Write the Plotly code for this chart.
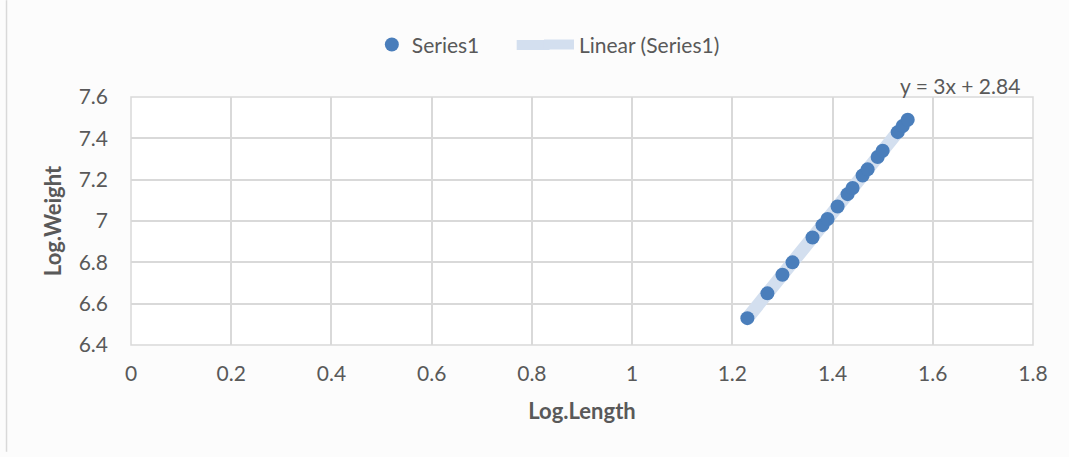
import plotly.graph_objects as go

# Log-transformed length / weight measurements
log_length = [1.23, 1.27, 1.30, 1.32, 1.36, 1.38, 1.39, 1.41, 1.43, 1.44,
              1.46, 1.47, 1.49, 1.50, 1.53, 1.54, 1.55]
log_weight = [6.53, 6.65, 6.74, 6.80, 6.92, 6.98, 7.01, 7.07, 7.13, 7.16,
              7.22, 7.25, 7.31, 7.34, 7.43, 7.46, 7.49]

# Linear trendline y = slope * x + intercept
slope = 3
intercept = 2.84
trend_x = [min(log_length), max(log_length)]
trend_y = [slope * x + intercept for x in trend_x]

x_ticks = [0, 0.2, 0.4, 0.6, 0.8, 1, 1.2, 1.4, 1.6, 1.8]
y_ticks = [6.4, 6.6, 6.8, 7, 7.2, 7.4, 7.6]

FONT = "Lato"
TEXT = "#595959"
GRID = "#d9d9d9"
TREND = "#d3dfef"
SIZE = 21

fig = go.Figure()
fig.add_trace(go.Scatter(
    x=trend_x, y=trend_y, mode="lines", name="Linear (Series1)",
    line=dict(color=TREND, width=13), legend="legend2",
))
fig.add_trace(go.Scatter(
    x=log_length, y=log_weight, mode="markers", name="Series1",
    marker=dict(color="#4a7ebb", size=14), legend="legend",
))

legend_style = dict(orientation="h", xanchor="left", y=1.21, yanchor="middle",
                    font=dict(size=SIZE, color=TEXT), bgcolor="rgba(0,0,0,0)")

fig.update_layout(
    width=1069, height=457,
    margin=dict(l=131, r=36, t=97, b=112, autoexpand=False),
    paper_bgcolor="#fcfcfc", plot_bgcolor="#ffffff",
    font=dict(family=FONT, color=TEXT, size=SIZE),
    showlegend=True,
    legend=dict(x=0.267, **legend_style),
    legend2=dict(x=0.4523, **legend_style),
    xaxis=dict(range=[0, 1.8], tickvals=x_ticks, ticktext=[str(v) for v in x_ticks],
               showgrid=True, gridcolor=GRID, gridwidth=1.5, zeroline=False,
               showline=False, ticks="", ticklabelstandoff=14,
               tickfont=dict(size=SIZE, color=TEXT),
               title=dict(text="<b>Log.Length</b>", font=dict(size=22, color=TEXT), standoff=19)),
    yaxis=dict(range=[6.4, 7.6], tickvals=y_ticks, ticktext=[str(v) for v in y_ticks],
               showgrid=True, gridcolor=GRID, gridwidth=1.5, zeroline=False,
               showline=False, ticks="", ticklabelstandoff=22,
               tickfont=dict(size=SIZE, color=TEXT),
               title=dict(text="<b>Log.Weight</b>", font=dict(size=22, color=TEXT), standoff=10)),
    shapes=[
        dict(type="rect", xref="paper", yref="paper", x0=0, x1=1, y0=0, y1=1,
             line=dict(color=GRID, width=1.5), layer="below"),
        dict(type="line", xref="paper", yref="paper", x0=-0.138, x1=-0.138, y0=-0.43, y1=1.39,
             line=dict(color="#d9d9d9", width=1.5)),
        # longer swatch for the trendline legend entry
        dict(type="line", xref="paper", yref="paper", x0=0.4276, x1=0.4640, y0=1.2097, y1=1.2097,
             line=dict(color=TREND, width=10)),
    ],
    annotations=[
        dict(text=f"y = {slope}x + {intercept}", x=1.53, y=7.6, xref="x", yref="y",
             xanchor="left", yanchor="middle", yshift=12, showarrow=False,
             font=dict(size=SIZE, color=TEXT)),
    ],
)

fig.write_html("out.html")
